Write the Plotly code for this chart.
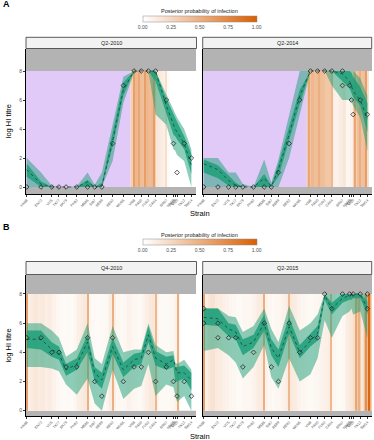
import plotly.graph_objects as go

# ---------------- data ----------------
strains = ["HK68", "EN72", "VI75", "TX77", "BK79", "PH82", "MS85", "SI87", "BE89", "BE92", "WU95",
           "VI98", "PA00", "FU02", "CA04", "BR07", "HN09", "PE09", "VI10", "TX12", "SW14"]
strain_year = [1968, 1972, 1975, 1977, 1979, 1982, 1985, 1987, 1989, 1992, 1995,
               1998, 2000, 2002, 2004, 2007, 2009, 2009.5, 2010, 2012, 2014]
panel_titles = ["Q2-2010", "Q2-2014", "Q4-2010", "Q2-2015"]
panel_letters = ["A", "B"]
prob_ticks = [0, 0.25, 0.5, 0.75, 1]
prob_ticktext = ["0.00", "0.25", "0.50", "0.75", "1.00"]
titre_ticks = [0, 2, 4, 6, 8]

# Panel A, Q2-2010
obs_a1 = [0, 0, 0, 0, 0, 0, 0, 0, 0, 3, 7, 8, 8, 8, 8, 6, 3, None, 1, 3, 2]
extra_a1 = []
med_a1 = [1.2, 0.2, 0, 0, 0, 0, 0.35, 0, 0.05, 3.2, 6.7, 8, 8, 8, 8, 5.6, 4.2, 4.0, 3.8, 3.0, 1.5]
lo50_a1 = [0.7, 0, 0, 0, 0, 0, 0, 0, 0, 2.8, 6.3, 8, 8, 8, 7.3, 5.0, 3.6, 3.5, 3.3, 2.6, 0.9]
hi50_a1 = [1.6, 0.4, 0, 0, 0, 0, 0.5, 0, 0.3, 3.7, 7.2, 8, 8, 8, 8, 6.1, 5.0, 4.7, 4.5, 3.5, 2.3]
lo95_a1 = [0, 0, 0, 0, 0, 0, 0, 0, 0, 1.8, 5.8, 7.9, 8, 8, 5.0, 4.3, 2.6, 2.5, 2.2, 1.8, 0]
hi95_a1 = [2.0, 1.0, 0.1, 0, 0, 0.05, 1.0, 0.15, 1.0, 4.2, 7.6, 8, 8, 8, 8, 6.4, 5.3, 5.0, 4.8, 4.0, 2.6]
birth_a1 = 1997.0
heat_years_a1 = [1997, 1998, 1999, 2000, 2001, 2002, 2003, 2004, 2005, 2006, 2007, 2008, 2009, 2010]
heat_end_a1 = 2010.375
heat_prob_a1 = [0.3, 0.45, 0.42, 0.4, 0.45, 0.42, 0.45, 0.15, 0.12, 0.1, 0.03, 0.0, 0.0, 0.0]
spike_t_a1 = [1998.0, 1999.3, 2001.0, 2003.7, 2006.8]
spike_p_a1 = [0.6, 0.55, 0.6, 0.6, 0.2]

# Panel A, Q2-2014
obs_a2 = [0, 0, 0, 0, 0, 0, 0, 0, 1, 3, 6, 8, 8, 8, 8, 8, 7, 6, 5, 6, 5]
extra_a2 = [("BR07", 7)]
med_a2 = [1.6, 1.2, 0.45, 0.1, 0, 0, 0.6, 0.05, 1.2, 3.6, 6.3, 8, 8, 8, 8, 7.8, 7.3, 7.0, 6.6, 6.0, 4.7]
lo50_a2 = [1.0, 0.6, 0.1, 0, 0, 0, 0, 0, 0.7, 3.2, 5.7, 8, 8, 8, 8, 7.3, 6.8, 6.5, 6.2, 5.6, 3.8]
hi50_a2 = [1.9, 1.5, 0.8, 0.3, 0, 0, 0.9, 0.1, 1.6, 4.2, 6.7, 8, 8, 8, 8, 8, 8, 7.9, 7.6, 6.9, 5.8]
lo95_a2 = [0, 0, 0, 0, 0, 0, 0, 0, 0, 2.0, 5.0, 8, 8, 8, 7.0, 6.0, 6.0, 5.9, 5.6, 4.8, 2.5]
hi95_a2 = [2.0, 2.0, 1.0, 1.0, 0.2, 0, 1.9, 0.3, 1.9, 5.0, 8, 8, 8, 8, 8, 8, 8, 8, 8, 7.5, 6.3]
birth_a2 = 1997.0
heat_years_a2 = [1997, 1998, 1999, 2000, 2001, 2002, 2003, 2004, 2005, 2006, 2007, 2008, 2009,
                 2010, 2011, 2012, 2013, 2014]
heat_end_a2 = 2014.375
heat_prob_a2 = [0.35, 0.45, 0.4, 0.42, 0.4, 0.35, 0.35, 0.1, 0.08, 0.12, 0.15, 0.05, 0.08,
                0.3, 0.4, 0.38, 0.42, 0.2]
spike_t_a2 = [1997.5, 2000.5, 2004.0, 2010.5, 2011.8, 2013.6]
spike_p_a2 = [0.55, 0.5, 0.45, 0.55, 0.5, 0.6]

# Panel B, Q4-2010
obs_b1 = [5, 5, 4, 4, 3, 3, 5, 2, 1, 5, 2, 3, 3, 4, 2, 3, 2, None, 1, 2, 1]
extra_b1 = []
med_b1 = [4.9, 4.9, 4.2, 3.9, 2.8, 3.2, 4.7, 2.6, 2.1, 4.4, 2.8, 3.5, 3.6, 5.2, 3.6, 3.2, 3.5, 3.0, 2.6, 2.6, 2.1]
lo50_b1 = [4.3, 4.2, 3.7, 3.5, 2.4, 2.8, 4.0, 2.0, 1.5, 3.9, 2.3, 3.0, 3.2, 4.7, 3.1, 2.8, 3.0, 2.0, 2.0, 2.2, 1.4]
hi50_b1 = [5.5, 5.5, 4.7, 4.4, 3.2, 3.6, 5.2, 3.0, 2.6, 5.0, 3.3, 3.9, 4.0, 5.8, 4.1, 3.7, 3.8, 3.0, 3.0, 3.1, 2.6]
lo95_b1 = [3.0, 3.0, 2.9, 2.7, 1.8, 1.1, 2.2, 0.5, 0, 2.8, 0.8, 1.5, 1.7, 3.2, 1.0, 1.8, 1.6, 1.0, 0.6, 1.0, 0]
hi95_b1 = [6.0, 6.0, 5.5, 5.0, 3.7, 4.2, 6.0, 3.6, 3.2, 5.8, 4.0, 4.2, 4.2, 6.0, 4.5, 4.0, 4.1, 3.3, 3.2, 3.5, 2.8]
birth_b1 = None
heat_years_b1 = list(range(1968, 2011))
heat_end_b1 = 2010.875
heat_prob_b1 = [0.10, 0.12, 0.15, 0.12, 0.14, 0.10, 0.12, 0.08, 0.05, 0.04, 0.03, 0.04, 0.03, 0.05,
                0.10, 0.12, 0.15, 0.06, 0.04, 0.03, 0.03, 0.04, 0.05, 0.12, 0.10, 0.05, 0.04, 0.05,
                0.08, 0.06, 0.05, 0.04, 0.06, 0.10, 0.14, 0.15, 0.08, 0.04, 0.04, 0.03, 0.05, 0.08, 0.10]
spike_t_b1 = [1968.1, 1985.0, 1992.1, 2004.0, 2010.3]
spike_p_b1 = [0.6, 0.5, 0.5, 0.45, 0.5]

# Panel B, Q2-2015
obs_b2 = [7, 6, 5, 5, 3, 4, 6, 3, 2, 6, 4, 5, 5, 8, 7, 8, 8, None, 8, 8, 8]
extra_b2 = [("HK68", 6), ("EN72", 5), ("SW14", 7)]
med_b2 = [6.4, 6.3, 5.6, 5.4, 4.4, 4.7, 6.0, 4.3, 3.6, 5.75, 4.0, 4.8, 5.3, 7.9, 7.0, 7.7, 7.9, 8, 8, 8, 7.0]
lo50_b2 = [5.9, 5.8, 5.1, 4.9, 3.8, 4.3, 5.5, 3.8, 3.0, 5.3, 3.6, 4.4, 4.8, 7.6, 6.6, 7.4, 7.6, 7.6, 7.7, 7.7, 6.6]
hi50_b2 = [7.0, 7.0, 6.0, 5.9, 4.9, 5.2, 6.6, 4.9, 4.2, 6.4, 4.5, 5.3, 5.8, 8, 7.4, 8, 8, 8, 8, 8, 7.5]
lo95_b2 = [4.1, 4.3, 3.8, 3.3, 2.2, 3.0, 4.5, 2.3, 1.5, 3.6, 2.0, 2.5, 3.6, 6.2, 5.0, 6.5, 6.8, 7.0, 6.6, 6.8, 5.0]
hi95_b2 = [7.0, 7.0, 6.5, 6.4, 5.4, 5.8, 7.0, 5.6, 4.7, 7.2, 5.5, 6.0, 6.6, 8, 8, 8, 8, 8, 8, 8, 8]
birth_b2 = None
heat_years_b2 = list(range(1968, 2016))
heat_end_b2 = 2015.375
heat_prob_b2 = [0.10, 0.15, 0.18, 0.14, 0.12, 0.10, 0.08, 0.06, 0.05, 0.04, 0.04, 0.05, 0.05, 0.06,
                0.08, 0.12, 0.14, 0.08, 0.05, 0.04, 0.05, 0.06, 0.08, 0.12, 0.14, 0.12, 0.08, 0.06,
                0.05, 0.04, 0.04, 0.05, 0.06, 0.08, 0.10, 0.12, 0.06, 0.04, 0.04, 0.05, 0.12, 0.15,
                0.2, 0.35, 0.15, 0.4, 0.55, 0.3]
spike_t_b2 = [1968.1, 1985.0, 1992.0, 2003.9, 2010.9, 2011.6, 2013.7, 2014.5]
spike_p_b2 = [0.6, 0.5, 0.45, 0.45, 0.55, 0.5, 0.7, 0.95]

panels = [
    dict(obs=obs_a1, extra=extra_a1, med=med_a1, lo50=lo50_a1, hi50=hi50_a1, lo95=lo95_a1, hi95=hi95_a1,
         birth=birth_a1, hy=heat_years_a1, hend=heat_end_a1, hp=heat_prob_a1, st=spike_t_a1, sp=spike_p_a1),
    dict(obs=obs_a2, extra=extra_a2, med=med_a2, lo50=lo50_a2, hi50=hi50_a2, lo95=lo95_a2, hi95=hi95_a2,
         birth=birth_a2, hy=heat_years_a2, hend=heat_end_a2, hp=heat_prob_a2, st=spike_t_a2, sp=spike_p_a2),
    dict(obs=obs_b1, extra=extra_b1, med=med_b1, lo50=lo50_b1, hi50=hi50_b1, lo95=lo95_b1, hi95=hi95_b1,
         birth=birth_b1, hy=heat_years_b1, hend=heat_end_b1, hp=heat_prob_b1, st=spike_t_b1, sp=spike_p_b1),
    dict(obs=obs_b2, extra=extra_b2, med=med_b2, lo50=lo50_b2, hi50=hi50_b2, lo95=lo95_b2, hi95=hi95_b2,
         birth=birth_b2, hy=heat_years_b2, hend=heat_end_b2, hp=heat_prob_b2, st=spike_t_b2, sp=spike_p_b2),
]

# ---------------- styling / layout ----------------
W, H = 374, 440
FONT = "Liberation Sans, Arial, sans-serif"
GREEN = "27,158,119"
GREY = "#B3B3B3"
PURPLE = "#E2CAF8"
CSCALE = [[0, "#FFFFFF"], [1, "#D95F02"]]
TITRE_MAX = 8
X_RANGE = [1967.8, 2015.3]

x_dom_px = [(26, 196), (203, 372)]
y_dom_px = [(48.5, 194), (275, 416)]
y_ranges = [[-0.483, 9.552], [-0.363, 9.302]]
strip_px = [(37.3, 48.5), (261.5, 274.5)]
strip_x_px = [(26, 196.5), (202.7, 371.7)]
cbar_y_px = [16, 239]
cbar_title_px = [11, 235]
letter_px = [4, 227]
xtitle_px = [213, 436]


def xd(a, b):
    return [a / W, b / W]


def yd(a, b):
    return [1 - b / H, 1 - a / H]


fig = go.Figure()
shapes = []
annotations = []

for p, d in enumerate(panels):
    row, col = divmod(p, 2)
    sfx = "" if p == 0 else str(p + 1)
    xa, ya = "x" + sfx, "y" + sfx
    cax = "coloraxis" if row == 0 else "coloraxis2"

    fig.add_trace(go.Heatmap(
        x=d["hy"] + [d["hend"]], y=[0, TITRE_MAX], z=[d["hp"]],
        coloraxis=cax, xaxis=xa, yaxis=ya, hoverinfo="skip", zsmooth=False))
    fig.add_trace(go.Bar(
        x=d["st"], y=[TITRE_MAX] * len(d["st"]), base=0, width=0.28,
        marker=dict(color=d["sp"], coloraxis=cax, line=dict(width=0)),
        xaxis=xa, yaxis=ya, hoverinfo="skip", showlegend=False))

    fig.add_trace(go.Scatter(x=strain_year, y=d["lo95"], mode="lines", line=dict(width=0),
                             xaxis=xa, yaxis=ya, showlegend=False, hoverinfo="skip"))
    fig.add_trace(go.Scatter(x=strain_year, y=d["hi95"], mode="lines", line=dict(width=0),
                             fill="tonexty", fillcolor=f"rgba({GREEN},0.5)",
                             xaxis=xa, yaxis=ya, showlegend=False, hoverinfo="skip"))
    fig.add_trace(go.Scatter(x=strain_year, y=d["lo50"], mode="lines", line=dict(width=0),
                             xaxis=xa, yaxis=ya, showlegend=False, hoverinfo="skip"))
    fig.add_trace(go.Scatter(x=strain_year, y=d["hi50"], mode="lines", line=dict(width=0),
                             fill="tonexty", fillcolor=f"rgba({GREEN},0.82)",
                             xaxis=xa, yaxis=ya, showlegend=False, hoverinfo="skip"))
    fig.add_trace(go.Scatter(x=strain_year, y=d["med"], mode="lines",
                             line=dict(color="#17473A", width=0.8, dash="dot"),
                             xaxis=xa, yaxis=ya, showlegend=False, hoverinfo="skip"))
    ex_x = [strain_year[strains.index(s)] for s, _ in d["extra"]]
    ex_y = [v for _, v in d["extra"]]
    fig.add_trace(go.Scatter(x=strain_year + ex_x, y=d["obs"] + ex_y, mode="markers",
                             marker=dict(symbol="diamond-open", size=3.6, color="#262626",
                                         line=dict(width=0.8, color="#262626")),
                             xaxis=xa, yaxis=ya, showlegend=False, hoverinfo="skip"))

    fig.layout["xaxis" + sfx] = dict(
        domain=xd(*x_dom_px[col]), anchor=ya, range=X_RANGE,
        tickvals=strain_year, ticktext=strains, tickangle=-45,
        tickfont=dict(size=3.6, color="#4D4D4D", family=FONT),
        ticks="outside", ticklen=2, tickwidth=0.6, tickcolor="#333333",
        showline=True, linecolor="#000000", linewidth=0.8,
        showgrid=False, zeroline=False, automargin=False, fixedrange=True)
    fig.layout["yaxis" + sfx] = dict(
        domain=yd(*y_dom_px[row]), anchor=xa, range=y_ranges[row],
        tickvals=titre_ticks, showticklabels=(col == 0),
        tickfont=dict(size=5, color="#4D4D4D", family=FONT),
        ticks="outside" if col == 0 else "", ticklen=2, tickwidth=0.6, tickcolor="#333333",
        showline=True, linecolor="#000000", linewidth=0.8,
        showgrid=False, zeroline=False, automargin=False, fixedrange=True)

    xdom = xa + " domain"
    shapes.append(dict(type="rect", xref=xdom, yref=ya, x0=0, x1=1, y0=TITRE_MAX, y1=20,
                       fillcolor=GREY, line=dict(width=0), layer="below"))
    shapes.append(dict(type="rect", xref=xdom, yref=ya, x0=0, x1=1, y0=-5, y1=0,
                       fillcolor=GREY, line=dict(width=0), layer="below"))
    if d["birth"] is not None:
        shapes.append(dict(type="rect", xref=xa, yref=ya, x0=X_RANGE[0], x1=d["birth"], y0=0, y1=TITRE_MAX,
                           fillcolor=PURPLE, line=dict(width=0), layer="below"))

    sx0, sx1 = strip_x_px[col]
    sy0, sy1 = strip_px[row]
    shapes.append(dict(type="rect", xref="paper", yref="paper",
                       x0=sx0 / W, x1=sx1 / W, y0=1 - sy1 / H, y1=1 - sy0 / H,
                       fillcolor="#F2F2F2", line=dict(color="#333333", width=0.8), layer="above"))
    annotations.append(dict(text=panel_titles[p], xref="paper", yref="paper",
                            x=(sx0 + sx1) / 2 / W, y=1 - (sy0 + sy1) / 2 / H,
                            showarrow=False, font=dict(size=5.5, color="#1A1A1A", family=FONT),
                            xanchor="center", yanchor="middle"))

for row in range(2):
    annotations.append(dict(text="<b>%s</b>" % panel_letters[row], xref="paper", yref="paper",
                            x=0.5 / W, y=1 - letter_px[row] / H, showarrow=False,
                            font=dict(size=9, color="#000000", family=FONT),
                            xanchor="left", yanchor="middle"))
    annotations.append(dict(text="Posterior probability of infection", xref="paper", yref="paper",
                            x=199.7 / W, y=1 - cbar_title_px[row] / H, showarrow=False,
                            font=dict(size=5.5, color="#1A1A1A", family=FONT),
                            xanchor="center", yanchor="middle"))
    annotations.append(dict(text="Strain", xref="paper", yref="paper",
                            x=199.5 / W, y=1 - xtitle_px[row] / H, showarrow=False,
                            font=dict(size=7.5, color="#000000", family=FONT),
                            xanchor="center", yanchor="middle"))
    annotations.append(dict(text="log HI titre", xref="paper", yref="paper",
                            x=8 / W, y=1 - (y_dom_px[row][0] + y_dom_px[row][1]) / 2 / H,
                            showarrow=False, textangle=-90,
                            font=dict(size=7.5, color="#000000", family=FONT),
                            xanchor="center", yanchor="middle"))


def cbar(ypx):
    return dict(orientation="h", xref="container", yref="container",
                x=199.7 / W, xanchor="center", y=1 - ypx / H, yanchor="top",
                len=114, lenmode="pixels", thickness=6, xpad=0, ypad=0,
                outlinewidth=0.5, outlinecolor="#8C8C8C", ticks="",
                tickvals=prob_ticks, ticktext=prob_ticktext,
                tickfont=dict(size=5, color="#4D4D4D", family=FONT))


fig.update_layout(
    width=W, height=H,
    margin=dict(l=0, r=0, t=0, b=0, autoexpand=False),
    paper_bgcolor="white", plot_bgcolor="white",
    font=dict(family=FONT),
    showlegend=False,
    barmode="overlay",
    coloraxis=dict(colorscale=CSCALE, cmin=0, cmax=1, colorbar=cbar(cbar_y_px[0])),
    coloraxis2=dict(colorscale=CSCALE, cmin=0, cmax=1, colorbar=cbar(cbar_y_px[1])),
    shapes=shapes, annotations=annotations,
)

fig.write_html("out.html", config={"displayModeBar": False},
               post_script="document.body.style.margin='0';document.body.style.padding='0';")
